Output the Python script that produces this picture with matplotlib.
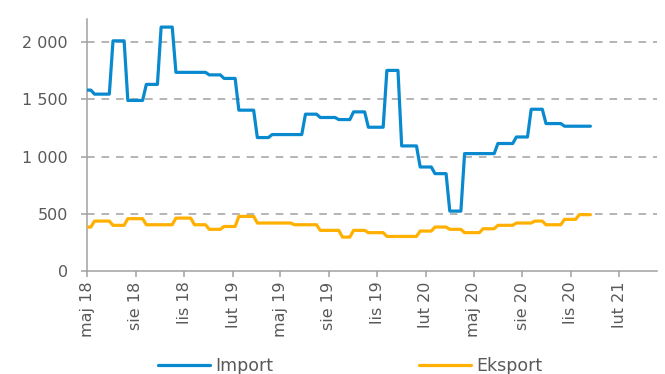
import numpy as np
import pandas as pd
import matplotlib
matplotlib.use("Agg")
import matplotlib.pyplot as plt
import matplotlib.dates as mdates
from matplotlib.ticker import FuncFormatter

# weekly series, first week starting 2018-05-01
start_date = "2018-05-01"
n_weeks = 137

import_vals = [
    1580, 1580, 1545, 1545, 1545, 1545, 1545, 2010, 2010, 2010,
    2010, 1490, 1490, 1490, 1490, 1490, 1630, 1630, 1630, 1630,
    2130, 2130, 2130, 2130, 1735, 1735, 1735, 1735, 1735, 1735,
    1735, 1735, 1735, 1713, 1713, 1713, 1713, 1682, 1682, 1682,
    1682, 1405, 1405, 1405, 1405, 1405, 1166, 1166, 1166, 1166,
    1192, 1192, 1192, 1192, 1192, 1192, 1192, 1192, 1192, 1370,
    1370, 1370, 1370, 1341, 1341, 1341, 1341, 1341, 1323, 1323,
    1323, 1323, 1390, 1390, 1390, 1390, 1256, 1256, 1256, 1256,
    1256, 1752, 1752, 1752, 1752, 1093, 1093, 1093, 1093, 1093,
    909, 909, 909, 909, 851, 851, 851, 851, 524, 524,
    524, 524, 1026, 1026, 1026, 1026, 1026, 1026, 1026, 1026,
    1026, 1114, 1114, 1114, 1114, 1114, 1171, 1171, 1171, 1171,
    1413, 1413, 1413, 1413, 1288, 1288, 1288, 1288, 1288, 1265,
    1265, 1265, 1265, 1265, 1265, 1265, 1265,
]

eksport_vals = [
    385, 385, 437, 437, 437, 437, 437, 400, 400, 400,
    400, 458, 458, 458, 458, 458, 405, 405, 405, 405,
    405, 405, 405, 405, 463, 463, 463, 463, 463, 405,
    405, 405, 405, 365, 365, 365, 365, 390, 390, 390,
    390, 478, 478, 478, 478, 478, 420, 420, 420, 420,
    420, 420, 420, 420, 420, 420, 405, 405, 405, 405,
    405, 405, 405, 356, 356, 356, 356, 356, 356, 297,
    297, 297, 356, 356, 356, 356, 336, 336, 336, 336,
    336, 303, 303, 303, 303, 303, 303, 303, 303, 303,
    350, 350, 350, 350, 385, 385, 385, 385, 365, 365,
    365, 365, 336, 336, 336, 336, 336, 370, 370, 370,
    370, 400, 400, 400, 400, 400, 420, 420, 420, 420,
    420, 437, 437, 437, 405, 405, 405, 405, 405, 452,
    452, 452, 452, 493, 493, 493, 493,
]

tick_dates = ["2018-05-01", "2018-08-01", "2018-11-01", "2019-02-01",
              "2019-05-01", "2019-08-01", "2019-11-01", "2020-02-01",
              "2020-05-01", "2020-08-01", "2020-11-01", "2021-02-01"]
tick_labels = ["maj 18", "sie 18", "lis 18", "lut 19", "maj 19", "sie 19",
               "lis 19", "lut 20", "maj 20", "sie 20", "lis 20", "lut 21"]

dates = pd.date_range(start_date, periods=n_weeks, freq="7D")

blue = "#0a8ace"
orange = "#ffb000"
grey = "#a0a0a0"
text_c = "#595959"

plt.rcParams["font.family"] = ["DejaVu Sans"]

fig = plt.figure(figsize=(6.65, 3.74), dpi=100)
ax = fig.add_axes([0.131, 0.275, 0.857, 0.674])

ax.plot(dates, import_vals, color=blue, lw=2.3, label="Import",
        solid_joinstyle="round", solid_capstyle="round", zorder=3)
ax.plot(dates, eksport_vals, color=orange, lw=2.3, label="Eksport",
        solid_joinstyle="round", solid_capstyle="round", zorder=3)

ax.set_ylim(0, 2200)
ax.set_yticks([0, 500, 1000, 1500, 2000])
ax.yaxis.set_major_formatter(FuncFormatter(lambda v, p: f"{int(v):,}".replace(",", " ")))
ax.set_xlim(pd.Timestamp("2018-05-01"), pd.Timestamp("2021-04-13"))
ax.set_xticks(pd.to_datetime(tick_dates))
ax.set_xticklabels(tick_labels, rotation=90)

for v in [500, 1000, 1500, 2000]:
    ax.axhline(v, color=grey, lw=1.1, ls=(0, (5, 4.5)), zorder=1)

for s in ["top", "right"]:
    ax.spines[s].set_visible(False)
for s in ["left", "bottom"]:
    ax.spines[s].set_color(grey)
    ax.spines[s].set_linewidth(1.1)

ax.tick_params(axis="y", colors=grey, labelcolor=text_c, labelsize=11.5,
               length=4, width=1.1, pad=10)
ax.tick_params(axis="x", colors=grey, labelcolor=text_c, labelsize=11.5,
               length=4, width=1.1, pad=3.5)

fig.legend(loc="lower center", bbox_to_anchor=(0.526, -0.045), ncol=2,
           frameon=False, fontsize=12.5, handlelength=3.0, handletextpad=0.3,
           columnspacing=8.4, labelcolor=text_c)

fig.savefig("out.png", dpi=100)
